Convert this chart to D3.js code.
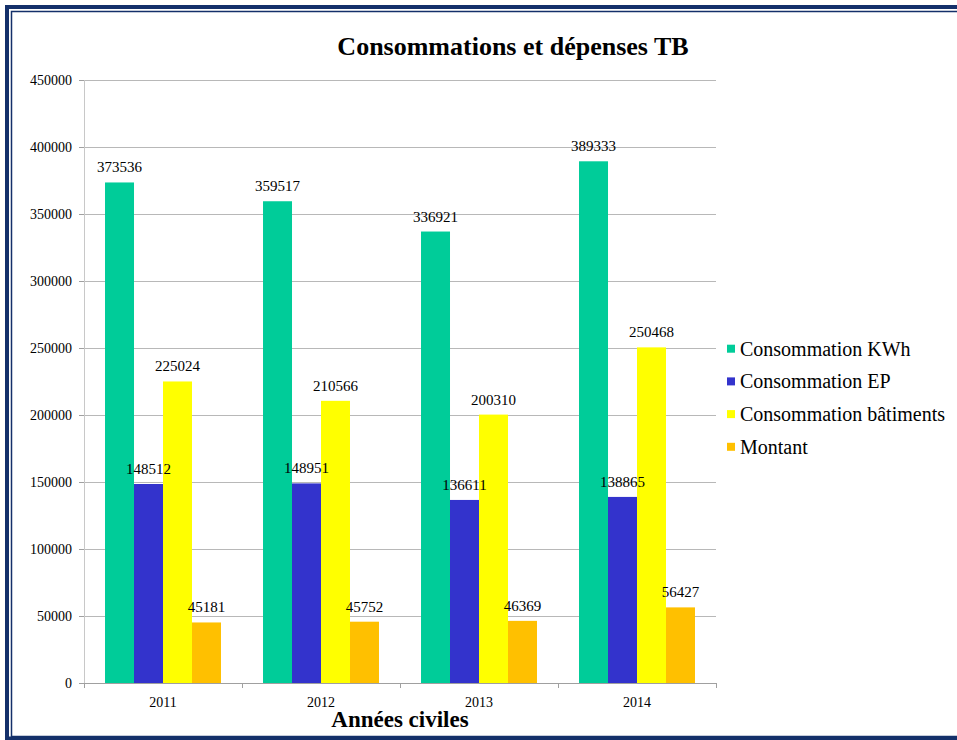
<!DOCTYPE html>
<html>
<head>
<meta charset="utf-8">
<script src="https://d3js.org/d3.v7.min.js"></script>
<style>
body { margin: 0; background: #fff; }
svg text { font-family: "Liberation Serif", "Times New Roman", serif; fill: #000; }
.axis path, .axis line { shape-rendering: crispEdges; }
</style>
</head>
<body>
<div id="chart"></div>
<script>

var years = ["2011", "2012", "2013", "2014"];
var seriesNames = ["Consommation KWh", "Consommation EP", "Consommation bâtiments", "Montant"];
var kwh = [373536, 359517, 336921, 389333];
var ep = [148512, 148951, 136611, 138865];
var batiments = [225024, 210566, 200310, 250468];
var montant = [45181, 45752, 46369, 56427];
var yTicks = [0, 50000, 100000, 150000, 200000, 250000, 300000, 350000, 400000, 450000];

var colours = ["#00cc99", "#3333cc", "#ffff00", "#ffc000"];
var allSeries = [kwh, ep, batiments, montant];

var W = 957, H = 740;
var plot = {left: 84, right: 716, top: 80, bottom: 683};

var svg = d3.select("#chart").append("svg")
    .attr("width", W)
    .attr("height", H);

// frame (cropped on the right like the original)
svg.append("rect")
    .attr("x", 7).attr("y", 7)
    .attr("width", 1000).attr("height", 731.5)
    .attr("fill", "none").attr("stroke", "#14306a").attr("stroke-width", 4);
svg.append("rect")
    .attr("x", 11.5).attr("y", 11.5)
    .attr("width", 1000).attr("height", 725)
    .attr("fill", "none").attr("stroke", "#14306a").attr("stroke-width", 1.5);

var x0 = d3.scaleBand().domain(years).range([plot.left, plot.right])
    .paddingInner(0.266).paddingOuter(0.133);
var x1 = d3.scaleBand().domain(d3.range(seriesNames.length)).range([0, x0.bandwidth()]);
var y = d3.scaleLinear().domain([0, 450000]).range([plot.bottom, plot.top]);

// grid lines
svg.append("g")
    .selectAll("line")
    .data(yTicks.slice(1))
    .enter().append("line")
    .attr("x1", plot.left).attr("x2", plot.right)
    .attr("y1", function(d) { return Math.round(y(d)) + 0.5; })
    .attr("y2", function(d) { return Math.round(y(d)) + 0.5; })
    .attr("stroke", "#b8b8b8");

// y axis
var yAxis = svg.append("g")
    .attr("class", "axis")
    .attr("transform", "translate(" + plot.left + ",0)")
    .call(d3.axisLeft(y).tickValues(yTicks).tickSize(5).tickPadding(7).tickFormat(d3.format("d")));
yAxis.select(".domain").attr("stroke", "#c8c8c8").attr("d", "M0," + plot.bottom + "V" + plot.top);
yAxis.selectAll(".tick line").attr("stroke", "#a0a0a0");
yAxis.selectAll("text").style("font-size", "14px").attr("dy", "0.34em");

// x axis
var xAxis = svg.append("g")
    .attr("class", "axis")
    .attr("transform", "translate(0," + plot.bottom + ")")
    .call(d3.axisBottom(x0).tickSize(0).tickPadding(14));
xAxis.select(".domain").attr("stroke", "#a0a0a0").attr("d", "M" + plot.left + ",5V0H" + plot.right + "V5");
xAxis.selectAll("text").style("font-size", "14px");
xAxis.selectAll(".sep")
    .data(years.slice(1))
    .enter().append("line")
    .attr("x1", function(d) { return Math.round(x0(d) - x0.step() * x0.paddingInner() / 2) + 0.5; })
    .attr("x2", function(d) { return Math.round(x0(d) - x0.step() * x0.paddingInner() / 2) + 0.5; })
    .attr("y1", 0).attr("y2", 5)
    .attr("stroke", "#a0a0a0");

// bars
var groups = svg.append("g")
    .selectAll("g")
    .data(years)
    .enter().append("g")
    .attr("transform", function(d) { return "translate(" + x0(d) + ",0)"; });

function rowOf(d, i) {
    return allSeries.map(function(s, k) { return {k: k, v: s[i]}; });
}

groups.selectAll("rect")
    .data(rowOf)
    .enter().append("rect")
    .attr("x", function(d) { return x1(d.k); })
    .attr("y", function(d) { return y(d.v); })
    .attr("width", x1.bandwidth())
    .attr("height", function(d) { return y(0) - y(d.v); })
    .attr("fill", function(d) { return colours[d.k]; });

groups.selectAll("text")
    .data(rowOf)
    .enter().append("text")
    .attr("x", function(d) { return x1(d.k) + x1.bandwidth() / 2; })
    .attr("y", function(d) { return y(d.v) - 10; })
    .attr("text-anchor", "middle")
    .style("font-size", "15px")
    .text(function(d) { return d.v; });

// titles
svg.append("text")
    .attr("x", 513).attr("y", 55)
    .attr("text-anchor", "middle")
    .style("font-size", "26px").style("font-weight", "bold")
    .text("Consommations et dépenses TB");

svg.append("text")
    .attr("x", 400).attr("y", 727)
    .attr("text-anchor", "middle")
    .style("font-size", "23px").style("font-weight", "bold")
    .text("Années civiles");

// legend
var legend = svg.append("g")
    .selectAll("g")
    .data(seriesNames)
    .enter().append("g")
    .attr("transform", function(d, i) { return "translate(727," + (355.7 + i * 32.7) + ")"; });
legend.append("rect")
    .attr("x", 0).attr("y", -11)
    .attr("width", 8).attr("height", 8)
    .attr("fill", function(d, i) { return colours[i]; });
legend.append("text")
    .attr("x", 13).attr("y", 0)
    .style("font-size", "20px")
    .text(function(d) { return d; });

</script>
</body>
</html>
